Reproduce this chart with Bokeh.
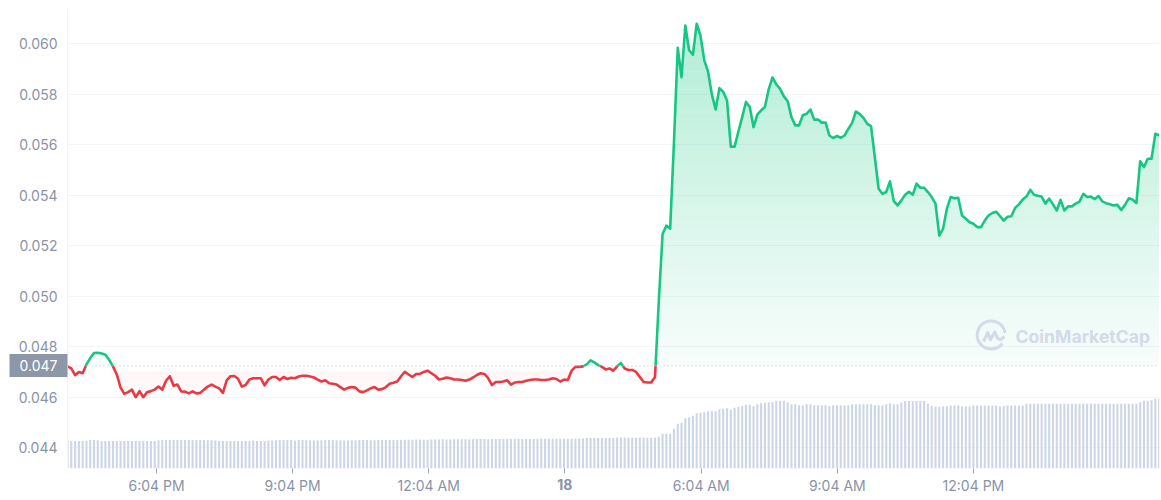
import numpy as np
from bokeh.plotting import figure
from bokeh.embed import file_html
from bokeh.resources import INLINE
from bokeh.models import Range1d, FixedTicker, NumeralTickFormatter, LinearAxis, Span
from bokeh.core.properties import value

baseline_price = 0.04724
baseline_label = "0.047"

price = [
 0.04722,0.04714,0.04687,0.04700,0.04695,0.04730,0.04755,0.04775,0.04776,0.04773,
 0.04768,0.04748,0.04722,0.04690,0.04638,0.04613,0.04620,0.04630,0.04600,0.04624,
 0.04600,0.04620,0.04624,0.04630,0.04642,0.04630,0.04665,0.04683,0.04645,0.04650,
 0.04623,0.04622,0.04615,0.04623,0.04615,0.04617,0.04630,0.04642,0.04650,0.04642,
 0.04635,0.04617,0.04667,0.04683,0.04684,0.04673,0.04642,0.04648,0.04670,0.04675,
 0.04675,0.04675,0.04647,0.04670,0.04680,0.04680,0.04668,0.04680,0.04672,0.04677,
 0.04675,0.04682,0.04685,0.04685,0.04682,0.04678,0.04670,0.04662,0.04667,0.04655,
 0.04653,0.04650,0.04640,0.04630,0.04637,0.04640,0.04638,0.04623,0.04620,0.04627,
 0.04635,0.04640,0.04630,0.04632,0.04640,0.04653,0.04657,0.04662,0.04683,0.04700,
 0.04690,0.04680,0.04692,0.04692,0.04700,0.04705,0.04695,0.04685,0.04670,0.04673,
 0.04678,0.04675,0.04670,0.04670,0.04668,0.04665,0.04670,0.04678,0.04688,0.04695,
 0.04692,0.04675,0.04648,0.04660,0.04660,0.04662,0.04667,0.04650,0.04658,0.04660,
 0.04660,0.04665,0.04668,0.04670,0.04670,0.04668,0.04668,0.04670,0.04675,0.04672,
 0.04662,0.04670,0.04668,0.04705,0.04720,0.04720,0.04722,0.04730,0.04746,0.04738,
 0.04727,0.04720,0.04710,0.04714,0.04705,0.04722,0.04736,0.04714,0.04708,0.04708,
 0.04700,0.04680,0.04660,0.04658,0.04658,0.04680,0.04980,0.05247,0.05280,0.05268,
 0.05610,0.05985,0.05868,0.06073,0.05975,0.05957,0.06080,0.06033,0.05935,0.05890,
 0.05800,0.05740,0.05825,0.05810,0.05776,0.05593,0.05593,0.05653,0.05710,0.05770,
 0.05750,0.05670,0.05720,0.05737,0.05750,0.05820,0.05867,0.05840,0.05822,0.05792,
 0.05773,0.05710,0.05677,0.05677,0.05717,0.05723,0.05740,0.05700,0.05700,0.05688,
 0.05688,0.05637,0.05627,0.05635,0.05628,0.05637,0.05663,0.05687,0.05732,0.05723,
 0.05707,0.05683,0.05674,0.05550,0.05426,0.05406,0.05413,0.05455,0.05377,0.05360,
 0.05380,0.05402,0.05414,0.05402,0.05446,0.05430,0.05430,0.05413,0.05393,0.05367,
 0.05240,0.05268,0.05347,0.05393,0.05388,0.05390,0.05320,0.05307,0.05293,0.05287,
 0.05274,0.05274,0.05300,0.05320,0.05330,0.05335,0.05318,0.05300,0.05315,0.05317,
 0.05350,0.05364,0.05383,0.05395,0.05422,0.05402,0.05398,0.05395,0.05367,0.05387,
 0.05364,0.05340,0.05382,0.05340,0.05356,0.05356,0.05367,0.05375,0.05406,0.05393,
 0.05395,0.05385,0.05397,0.05376,0.05369,0.05365,0.05360,0.05362,0.05342,0.05362,
 0.05388,0.05383,0.05369,0.05535,0.05512,0.05545,0.05545,0.05644,0.05638,
]

volume = [
 27.4,27.4,27.4,27.4,27.4,27.8,28.4,28.4,28.2,27.6,
 27.4,27.4,27.4,27.4,27.4,27.4,27.4,27.6,27.4,27.4,
 27.4,27.6,27.6,27.6,28.2,28.6,28.6,28.6,28.4,28.4,
 28.6,28.6,28.4,28.4,28.6,28.6,28.4,28.2,28.2,28.0,
 27.6,27.6,27.4,27.4,27.6,27.6,27.4,27.4,27.6,28.0,
 27.4,27.6,27.6,28.0,28.0,28.2,28.6,28.6,28.6,28.4,
 28.0,28.6,28.6,28.6,28.2,28.0,28.0,28.2,28.4,28.4,
 28.4,28.2,28.2,28.0,28.0,28.2,28.2,28.4,28.4,28.4,
 28.2,28.2,28.4,28.6,28.6,28.6,28.4,28.6,28.8,28.8,
 28.8,28.8,29.0,29.0,28.8,28.8,29.0,29.0,29.0,29.2,
 29.0,29.0,29.2,29.2,29.2,29.2,29.0,29.2,29.4,29.4,
 29.4,29.2,29.4,29.4,29.4,29.6,29.6,29.6,29.4,29.4,
 29.4,29.6,29.6,29.6,29.6,29.8,29.8,29.8,29.8,29.8,
 29.8,29.8,29.8,29.8,29.8,29.8,30.0,30.6,30.8,30.8,
 30.6,30.4,30.4,30.6,30.6,31.0,31.0,31.0,30.8,30.8,
 30.8,30.7,30.7,30.7,30.7,30.7,31.7,34.7,34.7,34.7,
 39.7,44.7,45.7,50.3,51.3,52.7,55.3,55.7,56.3,57.3,
 57.3,57.3,59.3,59.7,60.3,58.7,60.7,61.7,62.7,63.7,
 63.7,62.3,64.3,65.3,65.7,66.3,66.7,67.7,67.7,67.7,
 66.3,64.3,64.3,63.3,63.3,64.3,64.3,63.3,63.3,63.3,
 63.3,62.3,63.3,63.3,63.3,63.3,63.3,64.3,64.3,64.3,
 64.3,64.3,64.3,63.3,63.3,63.3,64.3,65.3,64.3,64.3,
 66.0,67.5,67.5,67.5,67.5,67.5,67.5,64.7,62.7,62.0,
 61.5,62.0,62.3,63.0,63.0,63.0,62.0,62.0,62.0,63.0,
 63.0,63.0,63.0,63.0,63.0,63.0,62.0,62.3,63.0,63.0,
 63.0,63.0,63.0,64.7,64.7,64.7,64.7,64.7,64.7,64.7,
 64.7,64.7,64.7,64.7,64.7,64.7,64.7,64.7,64.7,64.7,
 64.7,64.7,64.7,64.7,64.7,64.7,64.7,64.7,64.7,64.7,
 64.7,64.7,64.7,66.3,67.7,67.7,68.3,69.7,70.0,
]
assert len(price) == 289 and len(volume) == 289

y_ticks = [0.044, 0.046, 0.048, 0.050, 0.052, 0.054, 0.056, 0.058, 0.060]
x_ticks = [23.5, 59.4, 95.3, 131.2, 167.2, 203.1, 239.0]
x_labels = ["6:04 PM", "9:04 PM", "12:04 AM", "", "6:04 AM", "9:04 AM", "12:04 PM"]
date_label = "18"
date_tick = 131.2
watermark = "CoinMarketCap"

GREEN, RED = "#16c784", "#ea3943"
INK = "#8a93a6"
W, H = 1161, 500
LEFT, RIGHT, TOP, BOTTOM = 67, 2, 8, 32
Y0, Y1 = 0.043174, 0.061403
X0, X1 = 0.0, 288.1

p = figure(width=W, height=H, output_backend="svg", toolbar_location=None,
           x_range=Range1d(X0, X1), y_range=Range1d(Y0, Y1),
           min_border_left=LEFT, min_border_right=RIGHT,
           min_border_top=TOP, min_border_bottom=BOTTOM)
p.outline_line_color = None
p.background_fill_color = "#ffffff"
p.extra_y_ranges = {"vol": Range1d(0, H - TOP - BOTTOM)}

p.xgrid.visible = False
p.ygrid.grid_line_color = "#f3f4f7"
p.ygrid.grid_line_width = 1

font_size = "14px"
ax = p.xaxis[0]
ax.ticker = FixedTicker(ticks=x_ticks)
ax.major_label_overrides = dict(zip(x_ticks, x_labels))
ax.axis_line_color = None
ax.major_tick_in = 0
ax.major_tick_out = 5
ax.minor_tick_line_color = None
ax.major_tick_line_color = "#9aa2b4"
ax.major_label_text_color = INK
ax.major_label_text_font = "Inter"
ax.major_label_text_font_size = font_size
ax.major_label_standoff = 3

ay = p.yaxis[0]
ay.ticker = FixedTicker(ticks=y_ticks)
ay.formatter = NumeralTickFormatter(format="0.000")
ay.axis_line_color = "#f3f4f7"
ay.major_tick_line_color = None
ay.minor_tick_line_color = None
ay.major_label_text_color = INK
ay.major_label_text_font = "Inter"
ay.major_label_text_font_size = font_size
ay.major_label_standoff = 4

idx = np.arange(len(price), dtype=float)
pr = np.array(price)
k = (H - TOP - BOTTOM) / (Y1 - Y0)          # px per price unit


def px_to_y(py):
    return Y1 - (py - TOP) / k


def px_to_x(px):
    return X0 + (px - LEFT) * (X1 - X0) / (W - LEFT - RIGHT)


def crossings(levels):
    xs = [idx]
    for lv in levels:
        d = pr - lv
        j = np.where(d[:-1] * d[1:] < 0)[0]
        xs.append(idx[j] + d[j] / (d[j] - d[j + 1]))
    return np.unique(np.concatenate(xs))


# gradient fills as pixel-aligned bands
base_px = int(round(TOP + (Y1 - baseline_price) * k))
green_edges = np.arange(base_px, 18, -6)
red_edges = np.arange(base_px + 6, 402, 6)
levels = [px_to_y(e) for e in green_edges] + [px_to_y(e) for e in red_edges] + [baseline_price]
xf = crossings(levels)
yf = np.interp(xf, idx, pr)

for a, b in zip(green_edges[:-1], green_edges[1:]):
    lo, hi = px_to_y(a), px_to_y(b)
    mid = (a + b) / 2
    alpha = 0.03 + 0.30 * (base_px - mid) / (base_px - 24)
    top = np.clip(yf, lo, hi)
    p.varea(x=xf, y1=np.full_like(xf, lo), y2=top, fill_color=GREEN, fill_alpha=alpha)

for a, b in zip(red_edges[:-1], red_edges[1:]):
    hi, lo = px_to_y(a), px_to_y(b)
    mid = (a + b) / 2
    alpha = 0.055 - 0.04 * (mid - base_px) / 32
    bot = np.clip(yf, lo, hi)
    p.varea(x=xf, y1=bot, y2=np.full_like(xf, hi), fill_color=RED, fill_alpha=max(alpha, 0.012))

# volume bars
p.vbar(x=idx, top=volume, bottom=0, width=0.55, y_range_name="vol",
       fill_color="#cdd6e5", line_color=None)

# baseline
p.add_layout(Span(location=baseline_price, dimension="width", line_color="#b9c0cf",
                  line_width=1, line_dash="1 3"))

# watermark
ring_x, ring_y = px_to_x(990.7), px_to_y(334.5)
p.arc(x=[ring_x], y=[ring_y], radius=14, radius_units="screen", start_angle=0.15,
      end_angle=2 * np.pi - 0.65, line_color="#d3dae8", line_width=3)
squiggle = [(983, 341), (987.3, 332), (990, 339.3), (994.3, 331.3), (997, 337.7), (1000, 339.3), (1004, 336)]
p.line(x=[px_to_x(a) for a, _ in squiggle], y=[px_to_y(b) for _, b in squiggle],
       line_color="#d3dae8", line_width=3, line_join="round")
p.text(x=[px_to_x(1015)], y=[px_to_y(336)], text=[watermark], text_font=value("Inter"),
       text_font_size="17.6px", text_font_style="bold", text_color="#d3dae8",
       text_align="left", text_baseline="middle")

# price line: green above, red below the baseline
xl = crossings([baseline_price])
yl = np.interp(xl, idx, pr)
segs = {True: ([], []), False: ([], [])}
start = 0
for i in range(1, len(xl)):
    at_base = abs(yl[i] - baseline_price) < 1e-12
    if at_base or i == len(xl) - 1:
        sgn = yl[start + 1] >= baseline_price
        segs[bool(sgn)][0].append(xl[start:i + 1].tolist())
        segs[bool(sgn)][1].append(yl[start:i + 1].tolist())
        start = i
p.multi_line(xs=segs[False][0], ys=segs[False][1], line_color=RED, line_width=2.6, line_join="round")
p.multi_line(xs=segs[True][0], ys=segs[True][1], line_color=GREEN, line_width=2.6, line_join="round")

# current price tag: a second left axis whose single tick is drawn as the box
tag_axis = LinearAxis(ticker=FixedTicker(ticks=[baseline_price]),
                      major_label_overrides={baseline_price: baseline_label},
                      axis_line_color=None, minor_tick_line_color=None,
                      major_tick_in=52, major_tick_out=6,
                      major_tick_line_color="#8e97a8", major_tick_line_width=23,
                      major_label_text_color="#ffffff", major_label_text_font="Inter",
                      major_label_text_font_size=font_size, major_label_standoff=-48)
p.add_layout(tag_axis, "left")

# bold date label: a second bottom axis pulled back up beside the first
date_axis = LinearAxis(ticker=FixedTicker(ticks=[date_tick]),
                       major_label_overrides={date_tick: date_label},
                       axis_line_color=None, minor_tick_line_color=None,
                       major_tick_line_color=None,
                       major_label_text_color=INK, major_label_text_font="Inter",
                       major_label_text_font_size=font_size, major_label_text_font_style="bold",
                       major_label_standoff=-24)
p.add_layout(date_axis, "below")

open("out.html", "w").write(file_html(p, INLINE))
